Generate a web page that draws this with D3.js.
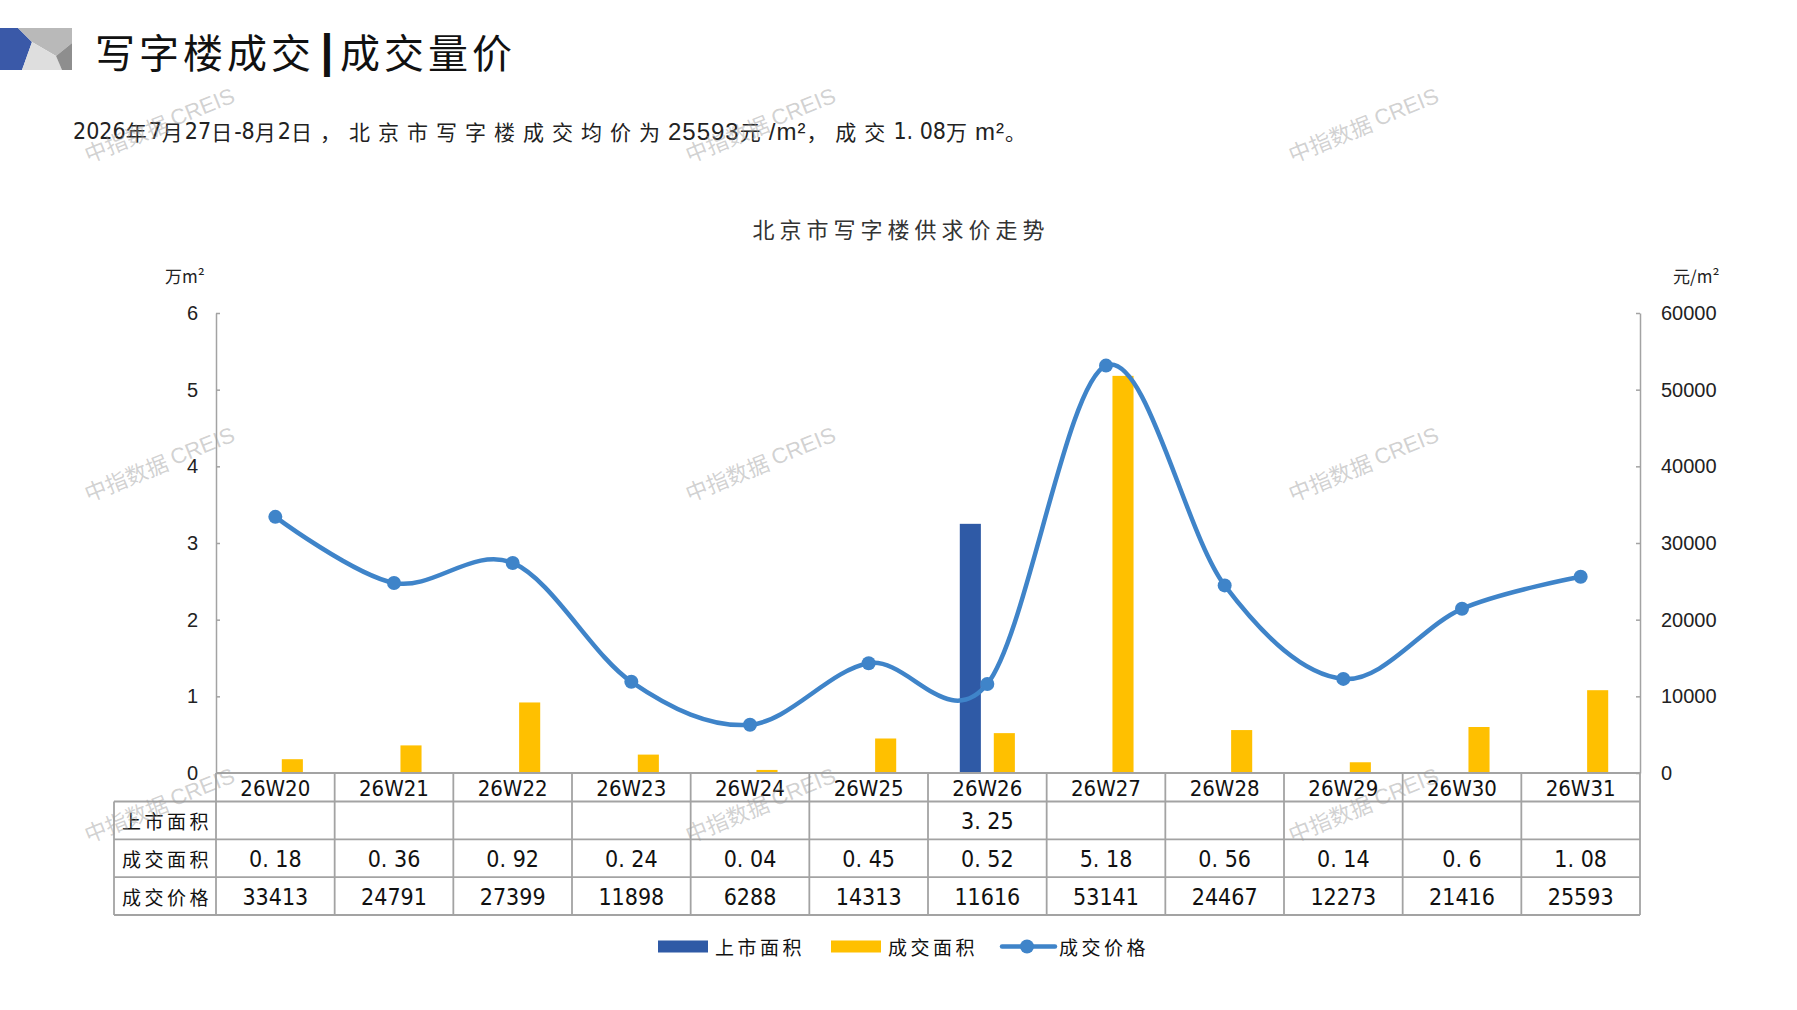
<!DOCTYPE html>
<html>
<head>
<meta charset="utf-8">
<script src="https://cdn.jsdelivr.net/npm/d3@7"></script>
<style>
  html, body { margin: 0; padding: 0; background: #fff; }
  svg { display: block; }
</style>
</head>
<body>
<div id="chart"></div>
<script>
// 数据
const categories = ['26W20', '26W21', '26W22', '26W23', '26W24', '26W25', '26W26', '26W27', '26W28', '26W29', '26W30', '26W31'];
const supplyArea = [null, null, null, null, null, null, 3.25, null, null, null, null, null];
const dealArea = [0.18, 0.36, 0.92, 0.24, 0.04, 0.45, 0.52, 5.18, 0.56, 0.14, 0.6, 1.08];
const dealPrice = [33413, 24791, 27399, 11898, 6288, 14313, 11616, 53141, 24467, 12273, 21416, 25593];
const leftTicks = [0, 1, 2, 3, 4, 5, 6];
const rightTicks = [0, 10000, 20000, 30000, 40000, 50000, 60000];
const seriesNames = ['上市面积', '成交面积', '成交价格'];

const width = 1797;
const height = 1010;

const CJK = '"Noto Sans CJK SC", sans-serif';
const NARROW = '"Liberation Sans Narrow", "DejaVu Sans Condensed", sans-serif';
const SANS = '"Liberation Sans", Arial, sans-serif';

const colSupply = '#2f5aa6';
const colDeal = '#ffc000';
const colPrice = '#3f84c9';
const colGrid = '#a3a3a3';

const svg = d3.select('#chart')
  .append('svg')
  .attr('width', width)
  .attr('height', height);

svg.append('rect').attr('width', width).attr('height', height).attr('fill', '#fff');

// 页眉图标
const logo = svg.append('g');
logo.append('polygon').attr('points', '0,28 18,28 32,42 22,70 0,70').attr('fill', '#3a59a8');
logo.append('polygon').attr('points', '18,28 72,28 72,43 56,56 32,42').attr('fill', '#b9b9b9');
logo.append('polygon').attr('points', '32,42 56,56 62,70 22,70').attr('fill', '#dedede');
logo.append('polygon').attr('points', '72,43 72,70 62,70 56,56').attr('fill', '#8e8e8e');

// 页眉标题
svg.append('text')
  .attr('x', 95).attr('y', 51)
  .attr('dominant-baseline', 'central')
  .style('font-family', CJK).style('font-size', '40px').style('letter-spacing', '4px')
  .attr('fill', '#111')
  .text('写字楼成交');
svg.append('text')
  .attr('x', 327).attr('y', 51)
  .attr('text-anchor', 'middle')
  .attr('dominant-baseline', 'central')
  .style('font-family', SANS).style('font-size', '46px').style('font-weight', 'bold')
  .attr('fill', '#111')
  .text('|');
svg.append('text')
  .attr('x', 340).attr('y', 51)
  .attr('dominant-baseline', 'central')
  .style('font-family', CJK).style('font-size', '40px').style('letter-spacing', '4px')
  .attr('fill', '#111')
  .text('成交量价');

// 副标题
const sub = svg.append('text')
  .attr('x', 73).attr('y', 131)
  .attr('dominant-baseline', 'central')
  .attr('fill', '#222');
const subParts = [
  ['2026', 'n'], ['年', 'd'], ['7', 'n'], ['月', 'd'], ['27', 'n'], ['日', 'd'], ['-8', 'n'], ['月', 'd'], ['2', 'n'],
  ['日，北京市写字楼成交均价为', 'c'], ['25593', 's'], ['元', 'c'], ['/m²', 's'], ['，成交', 'c'],
  ['1. 08', 'n'], ['万', 'c'], ['m²', 's'], ['。', 'c']
];
subParts.forEach(([t, k]) => {
  const ts = sub.append('tspan').text(t);
  if (k === 'c') ts.style('font-family', CJK).style('font-size', '21px').style('letter-spacing', '8px');
  else if (k === 'd') ts.style('font-family', CJK).style('font-size', '21px').style('letter-spacing', '2px');
  else if (k === 'n') ts.style('font-family', NARROW).style('font-size', '23px');
  else ts.style('font-family', SANS).style('font-size', '24px').style('letter-spacing', '1px');
});

// 图表标题
svg.append('text')
  .attr('x', 901).attr('y', 228)
  .attr('text-anchor', 'middle')
  .attr('dominant-baseline', 'central')
  .style('font-family', CJK).style('font-size', '22px').style('letter-spacing', '5px')
  .attr('fill', '#333')
  .text('北京市写字楼供求价走势');

// 比例尺
const plotLeft = 216, plotRight = 1640, plotTop = 313, plotBottom = 773;

const x0 = d3.scaleBand()
  .domain(categories)
  .range([plotLeft, plotRight]);

const bw = x0.bandwidth();
const x1 = d3.scaleBand()
  .domain(['supply', 'deal'])
  .range([bw / 2 - 34, bw / 2 + 34])
  .paddingInner(0.38)
  .paddingOuter(0.19);

const yL = d3.scaleLinear().domain([0, 6]).range([plotBottom, plotTop]);
const yR = d3.scaleLinear().domain([0, 60000]).range([plotBottom, plotTop]);

// 坐标轴
const axL = svg.append('g')
  .attr('transform', `translate(${plotLeft},0)`)
  .call(d3.axisLeft(yL).tickValues(leftTicks).tickFormat(d3.format('d')).tickSize(-4).tickSizeOuter(0).tickPadding(18));
const axR = svg.append('g')
  .attr('transform', `translate(${plotRight},0)`)
  .call(d3.axisRight(yR).tickValues(rightTicks).tickFormat(d3.format('d')).tickSize(-4).tickSizeOuter(0).tickPadding(21));
[axL, axR].forEach(ax => {
  ax.select('.domain').attr('stroke', colGrid).attr('stroke-width', 1.5);
  ax.selectAll('.tick line').attr('stroke', colGrid).attr('stroke-width', 1.5);
  ax.selectAll('.tick text')
    .style('font-family', SANS).style('font-size', '20px').attr('fill', '#222');
});

// 单位
svg.append('text')
  .attr('x', 165).attr('y', 275).attr('dominant-baseline', 'central')
  .style('font-family', CJK).style('font-size', '17px').attr('fill', '#222')
  .text('万m²');
svg.append('text')
  .attr('x', 1673).attr('y', 275).attr('dominant-baseline', 'central')
  .style('font-family', CJK).style('font-size', '17px').attr('fill', '#222')
  .text('元/m²');

// 柱子
const barRows = categories.map((c, i) => ({ c, supply: supplyArea[i], deal: dealArea[i] }));
const groups = svg.append('g')
  .selectAll('g')
  .data(barRows)
  .join('g')
  .attr('transform', d => `translate(${x0(d.c)},0)`);

groups.selectAll('rect')
  .data(d => [{ k: 'supply', v: d.supply }, { k: 'deal', v: d.deal }].filter(e => e.v != null))
  .join('rect')
  .attr('x', e => x1(e.k))
  .attr('width', x1.bandwidth())
  .attr('y', e => yL(e.v))
  .attr('height', e => yL(0) - yL(e.v))
  .attr('fill', e => e.k === 'supply' ? colSupply : colDeal);

// 价格曲线
const pricePts = categories.map((c, i) => ({ c, v: dealPrice[i] }));
const line = d3.line()
  .x(d => x0(d.c) + bw / 2)
  .y(d => yR(d.v))
  .curve(d3.curveCatmullRom.alpha(0));

svg.append('path')
  .datum(pricePts)
  .attr('d', line)
  .attr('fill', 'none')
  .attr('stroke', colPrice)
  .attr('stroke-width', 4.5)
  .attr('stroke-linecap', 'round');

svg.append('g')
  .selectAll('circle')
  .data(pricePts)
  .join('circle')
  .attr('cx', d => x0(d.c) + bw / 2)
  .attr('cy', d => yR(d.v))
  .attr('r', 7)
  .attr('fill', colPrice);

// 数据表
const rowEdges = [plotBottom, 801.5, 839.3, 877.1, 915];
const tableLeft = 114;
const table = svg.append('g');
const tl = table.append('g').attr('stroke', colGrid).attr('stroke-width', 1.8);

tl.append('line').attr('x1', plotLeft).attr('x2', plotRight).attr('y1', rowEdges[0]).attr('y2', rowEdges[0]);
rowEdges.slice(1).forEach(y => {
  tl.append('line').attr('x1', tableLeft).attr('x2', plotRight).attr('y1', y).attr('y2', y);
});
tl.append('line').attr('x1', tableLeft).attr('x2', tableLeft).attr('y1', rowEdges[1]).attr('y2', rowEdges[4]);
categories.concat(['end']).forEach((c, i) => {
  const xx = plotLeft + i * bw;
  tl.append('line').attr('x1', xx).attr('x2', xx).attr('y1', rowEdges[0]).attr('y2', rowEdges[4]);
});

const rowMid = i => (rowEdges[i] + rowEdges[i + 1]) / 2;

table.append('g')
  .selectAll('text')
  .data(categories)
  .join('text')
  .attr('x', d => x0(d) + bw / 2)
  .attr('y', rowMid(0) + 1)
  .attr('text-anchor', 'middle')
  .attr('dominant-baseline', 'central')
  .style('font-family', NARROW).style('font-size', '22px').attr('fill', '#111')
  .text(d => d);

table.append('g')
  .selectAll('text')
  .data(seriesNames)
  .join('text')
  .attr('x', (tableLeft + plotLeft) / 2 + 2)
  .attr('y', (d, i) => rowMid(i + 1))
  .attr('text-anchor', 'middle')
  .attr('dominant-baseline', 'central')
  .style('font-family', CJK).style('font-size', '19px').style('letter-spacing', '3.5px').attr('fill', '#111')
  .text(d => d);

const rowsData = [supplyArea, dealArea, dealPrice];
rowsData.forEach((arr, r) => {
  table.append('g')
    .selectAll('text')
    .data(arr.map((v, i) => ({ c: categories[i], v })).filter(d => d.v != null))
    .join('text')
    .attr('x', d => x0(d.c) + bw / 2)
    .attr('y', rowMid(r + 1) + 1)
    .attr('text-anchor', 'middle')
    .attr('dominant-baseline', 'central')
    .style('font-family', NARROW).style('font-size', '23px').attr('fill', '#111')
    .text(d => r < 2 ? String(d.v).replace('.', '. ') : String(d.v));
});

// 图例
const legend = svg.append('g').attr('transform', 'translate(0,946.5)');
const legendItems = [
  { name: seriesNames[0], x: 658, type: 'bar', color: colSupply },
  { name: seriesNames[1], x: 831, type: 'bar', color: colDeal },
  { name: seriesNames[2], x: 1002, type: 'line', color: colPrice }
];
legendItems.forEach(it => {
  if (it.type === 'bar') {
    legend.append('rect').attr('x', it.x).attr('y', -6).attr('width', 50).attr('height', 12).attr('fill', it.color);
  } else {
    legend.append('line').attr('x1', it.x).attr('x2', it.x + 53).attr('y1', 0).attr('y2', 0)
      .attr('stroke', it.color).attr('stroke-width', 4.5).attr('stroke-linecap', 'round');
    legend.append('circle').attr('cx', it.x + 25).attr('cy', 0).attr('r', 7).attr('fill', it.color);
  }
  legend.append('text')
    .attr('x', it.x + 57).attr('y', 0)
    .attr('dominant-baseline', 'central')
    .style('font-family', CJK).style('font-size', '19px').style('letter-spacing', '3.5px').attr('fill', '#111')
    .text(it.name);
});

// 水印
const wmX = [159, 760, 1363];
const wmY = [124, 463, 804];
const wm = svg.append('g').attr('pointer-events', 'none');
wmY.forEach(wy => wmX.forEach(wx => {
  const t = wm.append('text')
    .attr('transform', `translate(${wx},${wy}) rotate(-22)`)
    .attr('text-anchor', 'middle')
    .attr('dominant-baseline', 'central')
    .attr('fill', '#9a9a9a')
    .attr('fill-opacity', 0.45);
  t.append('tspan').style('font-family', CJK).style('font-size', '22px').text('中指数据 ');
  t.append('tspan').style('font-family', SANS).style('font-size', '22px').text('CREIS');
}));
</script>
</body>
</html>
